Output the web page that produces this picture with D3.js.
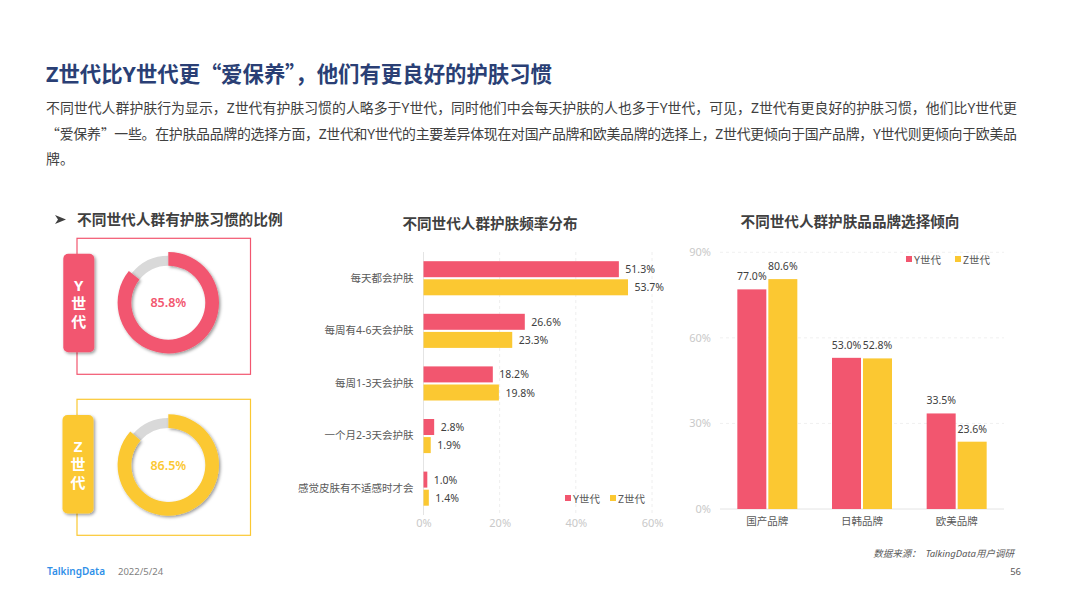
<!DOCTYPE html>
<html>
<head>
<meta charset="utf-8">
<script src="https://cdn.jsdelivr.net/npm/d3@7/dist/d3.min.js"></script>
<style>
@font-face { font-family: "Quote"; src: local("Noto Sans CJK SC"); font-weight: 400; unicode-range: U+201C, U+201D; }
@font-face { font-family: "Quote"; src: local("Noto Sans CJK SC Bold"); font-weight: 700; unicode-range: U+201C, U+201D; }
html, body { margin: 0; padding: 0; background: #fff; overflow: hidden; }
text { font-family: "Quote", "Noto Sans", "Noto Sans CJK SC", sans-serif; }
</style>
</head>
<body>
<script>
var titleText = "Z世代比Y世代更“爱保养”，他们有更良好的护肤习惯";
var bodyLines = [
    "不同世代人群护肤行为显示，Z世代有护肤习惯的人略多于Y世代，同时他们中会每天护肤的人也多于Y世代，可见，Z世代有更良好的护肤习惯，他们比Y世代更",
    "“爱保养”一些。在护肤品品牌的选择方面，Z世代和Y世代的主要差异体现在对国产品牌和欧美品牌的选择上，Z世代更倾向于国产品牌，Y世代则更倾向于欧美品",
    "牌。"
];

var seriesNames = ["Y世代", "Z世代"];

// 有护肤习惯的比例
var habitY = 85.8;
var habitZ = 86.5;

// 护肤频率
var freqCategories = ["每天都会护肤", "每周有4-6天会护肤", "每周1-3天会护肤", "一个月2-3天会护肤", "感觉皮肤有不适感时才会"];
var freqY = [51.3, 26.6, 18.2, 2.8, 1.0];
var freqZ = [53.7, 23.3, 19.8, 1.9, 1.4];
var freqTicks = [0, 20, 40, 60];

// 品牌倾向
var brandCategories = ["国产品牌", "日韩品牌", "欧美品牌"];
var brandY = [77.0, 53.0, 33.5];
var brandZ = [80.6, 52.8, 23.6];
var brandTicks = [0, 30, 60, 90];

var RED = "#f2566f";
var YELLOW = "#fbc832";
var DARK = "#404040";
var GREY = "#c9c9c9";

var svg = d3.select("body")
    .append("svg")
    .attr("width", 1066)
    .attr("height", 599);

// 阴影
var filter = svg.append("defs").append("filter")
    .attr("id", "shadow")
    .attr("x", "-20%").attr("y", "-20%")
    .attr("width", "150%").attr("height", "150%");
filter.append("feDropShadow")
    .attr("dx", 1.5).attr("dy", 1.5)
    .attr("stdDeviation", 1.5)
    .attr("flood-color", "#000")
    .attr("flood-opacity", 0.4);

// 标题和正文
svg.append("text")
    .attr("x", 46).attr("y", 82)
    .attr("font-size", 21.4)
    .attr("font-weight", 700)
    .attr("fill", "#2a3f75")
    .text(titleText);

svg.selectAll("text.body")
    .data(bodyLines)
    .enter()
    .append("text")
    .attr("class", "body")
    .attr("x", 46)
    .attr("y", function(d, i) { return 113 + i * 25.5; })
    .attr("font-size", 13.9)
    .attr("fill", DARK)
    .attr("textLength", function(d, i) { return i < 2 ? 971 : null; })
    .text(function(d) { return d; });

// 左侧小标题
svg.append("path")
    .attr("d", "M55 215 L66 219.5 L55 224 L58 219.5 Z")
    .attr("fill", "#404040");

svg.append("text")
    .attr("x", 77).attr("y", 225)
    .attr("font-size", 14.7)
    .attr("font-weight", 700)
    .attr("fill", DARK)
    .text("不同世代人群有护肤习惯的比例");

// 环形图
function drawHabit(value, color, cy, boxTop, boxBottom, tagX, tagTop, letter) {
    var cx = 168.3;

    svg.append("rect")
        .attr("x", 77).attr("y", boxTop)
        .attr("width", 173.5).attr("height", boxBottom - boxTop)
        .attr("fill", "none")
        .attr("stroke", color)
        .attr("stroke-width", 1.2);

    var tag = svg.append("rect")
        .attr("x", tagX).attr("y", tagTop)
        .attr("width", 31).attr("height", 98.5)
        .attr("rx", 5)
        .attr("fill", color)
        .attr("filter", "url(#shadow)");

    svg.selectAll(null)
        .data([letter, "世", "代"])
        .enter()
        .append("text")
        .attr("x", +tag.attr("x") + 15.5)
        .attr("y", function(d, i) { return tagTop + 37 + i * 18; })
        .attr("text-anchor", "middle")
        .attr("font-size", 15)
        .attr("font-weight", 700)
        .attr("fill", "#fff")
        .text(function(d) { return d; });

    var pie = d3.pie().sort(null);
    var slices = pie([value, 100 - value]);
    var g = svg.append("g").attr("transform", "translate(" + cx + "," + cy + ")");

    g.append("path")
        .attr("d", d3.arc().innerRadius(37).outerRadius(47)(slices[1]))
        .attr("fill", "#d9d9d9");

    g.append("path")
        .attr("d", d3.arc().innerRadius(37).outerRadius(50.7)(slices[0]))
        .attr("fill", color)
        .attr("filter", "url(#shadow)");

    g.append("text")
        .attr("y", 4.5)
        .attr("text-anchor", "middle")
        .attr("font-size", 12.5)
        .attr("font-weight", 600)
        .attr("fill", color)
        .text(value.toFixed(1) + "%");
}

drawHabit(habitY, RED, 302.7, 238.3, 374.3, 63.3, 253.7, "Y");
drawHabit(habitZ, YELLOW, 465, 399.3, 535.3, 62.5, 415, "Z");

function legend(x, y, gap) {
    var items = svg.selectAll(null)
        .data(seriesNames)
        .enter()
        .append("g")
        .attr("transform", function(d, i) { return "translate(" + (x + i * gap) + "," + y + ")"; });
    items.append("rect")
        .attr("y", -6).attr("width", 6).attr("height", 6)
        .attr("fill", function(d, i) { return i ? YELLOW : RED; });
    items.append("text")
        .attr("x", 8).attr("y", 1.5)
        .attr("font-size", 10.5)
        .attr("fill", "#595959")
        .text(function(d) { return d; });
}

function chartTitle(x, y, t) {
    svg.append("text")
        .attr("x", x).attr("y", y)
        .attr("text-anchor", "middle")
        .attr("font-size", 14.6)
        .attr("font-weight", 700)
        .attr("fill", DARK)
        .text(t);
}

// 护肤频率条形图
chartTitle(490, 229, "不同世代人群护肤频率分布");

var fx = d3.scaleLinear().domain([0, 60]).range([423.5, 652]);
var fy = d3.scaleBand().domain(freqCategories).range([252, 515]);
var freqData = freqCategories.map(function(c, i) { return { c: c, y: freqY[i], z: freqZ[i] }; });

svg.selectAll("line.fgrid")
    .data(freqTicks.slice(1))
    .enter()
    .append("line")
    .attr("x1", fx).attr("x2", fx)
    .attr("y1", 252).attr("y2", 515)
    .attr("stroke", "#eeeeee")
    .attr("stroke-dasharray", "3,3");

svg.append("line")
    .attr("x1", fx(0)).attr("x2", fx(0))
    .attr("y1", 252).attr("y2", 515)
    .attr("stroke", "#e4e4e4");

var fxAxis = svg.append("g")
    .attr("transform", "translate(0,515)")
    .call(d3.axisBottom(fx).tickValues(freqTicks).tickSize(0).tickPadding(4).tickFormat(function(d) { return d + "%"; }));
fxAxis.select(".domain").remove();
fxAxis.selectAll("text").attr("font-size", 11).attr("font-family", null).attr("fill", GREY);

var fyAxis = svg.append("g")
    .attr("transform", "translate(423.5,0)")
    .call(d3.axisLeft(fy).tickSize(0).tickPadding(10));
fyAxis.select(".domain").remove();
fyAxis.selectAll("text").attr("font-size", 10.5).attr("font-family", null).attr("fill", "#595959");

var barH = 16;
[["y", RED, -17.6], ["z", YELLOW, 0.5]].forEach(function(s) {
    svg.selectAll(null)
        .data(freqData)
        .enter()
        .append("rect")
        .attr("x", fx(0))
        .attr("y", function(d) { return fy(d.c) + fy.bandwidth() / 2 + s[2] + 0.5; })
        .attr("width", function(d) { return fx(d[s[0]]) - fx(0); })
        .attr("height", barH)
        .attr("fill", s[1]);

    svg.selectAll(null)
        .data(freqData)
        .enter()
        .append("text")
        .attr("x", function(d) { return fx(d[s[0]]) + 6.5; })
        .attr("y", function(d) { return fy(d.c) + fy.bandwidth() / 2 + s[2] + 12.5; })
        .attr("font-size", 10.5)
        .attr("fill", DARK)
        .text(function(d) { return d[s[0]].toFixed(1) + "%"; });
});

legend(565, 501, 45);

// 品牌倾向柱状图
chartTitle(850, 227, "不同世代人群护肤品品牌选择倾向");

var bx = d3.scaleBand().domain(brandCategories).range([720, 1004]);
var by = d3.scaleLinear().domain([0, 90]).range([509, 252.3]);
var brandData = brandCategories.map(function(c, i) { return { c: c, y: brandY[i], z: brandZ[i] }; });

svg.selectAll("line.bgrid")
    .data(brandTicks.slice(1))
    .enter()
    .append("line")
    .attr("x1", 720).attr("x2", 1004)
    .attr("y1", by).attr("y2", by)
    .attr("stroke", "#f0f0f0")
    .attr("stroke-dasharray", "3,3");

svg.append("line")
    .attr("x1", 720).attr("x2", 1004)
    .attr("y1", by(0)).attr("y2", by(0))
    .attr("stroke", "#e4e4e4");

var byAxis = svg.append("g")
    .attr("transform", "translate(711,0)")
    .call(d3.axisLeft(by).tickValues(brandTicks).tickSize(0).tickPadding(0).tickFormat(function(d) { return d + "%"; }));
byAxis.select(".domain").remove();
byAxis.selectAll("text").attr("font-size", 11).attr("font-family", null).attr("fill", GREY);

var bxAxis = svg.append("g")
    .attr("transform", "translate(0,509)")
    .call(d3.axisBottom(bx).tickSize(0).tickPadding(9));
bxAxis.select(".domain").remove();
bxAxis.selectAll("text").attr("font-size", 10.5).attr("font-family", null).attr("fill", "#595959");

var colW = 29;
[["y", RED, -29], ["z", YELLOW, 2]].forEach(function(s) {
    svg.selectAll(null)
        .data(brandData)
        .enter()
        .append("rect")
        .attr("x", function(d) { return bx(d.c) + bx.bandwidth() / 2 + s[2] - 1; })
        .attr("y", function(d) { return by(d[s[0]]); })
        .attr("width", colW)
        .attr("height", function(d) { return by(0) - by(d[s[0]]); })
        .attr("fill", s[1]);

    svg.selectAll(null)
        .data(brandData)
        .enter()
        .append("text")
        .attr("x", function(d) { return bx(d.c) + bx.bandwidth() / 2 + s[2] + colW / 2 - 1; })
        .attr("y", function(d) { return by(d[s[0]]) - 9; })
        .attr("text-anchor", "middle")
        .attr("font-size", 10.5)
        .attr("fill", DARK)
        .text(function(d) { return d[s[0]].toFixed(1) + "%"; });
});

legend(906, 262, 49);

// 页脚
svg.append("text")
    .attr("x", 1014).attr("y", 557)
    .attr("text-anchor", "end")
    .attr("font-size", 9.5)
    .attr("font-style", "italic")
    .attr("fill", "#595959")
    .style("white-space", "pre")
    .text("数据来源：  TalkingData用户调研");

svg.append("text")
    .attr("x", 1021).attr("y", 575)
    .attr("text-anchor", "end")
    .attr("font-size", 9.5)
    .attr("fill", "#595959")
    .text("56");

svg.append("text")
    .attr("x", 47).attr("y", 575)
    .attr("font-size", 10)
    .attr("font-weight", 600)
    .attr("fill", "#2f8fe8")
    .text("TalkingData");

svg.append("text")
    .attr("x", 118).attr("y", 575)
    .attr("font-size", 9.5)
    .attr("fill", "#7f7f7f")
    .text("2022/5/24");
</script>
</body>
</html>
